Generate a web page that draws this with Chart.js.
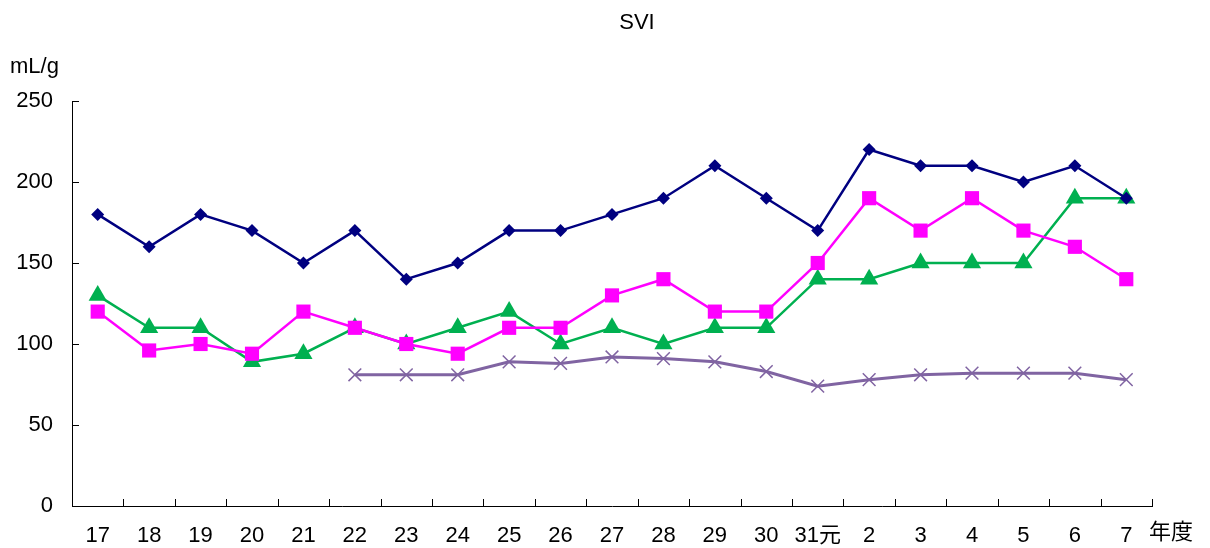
<!DOCTYPE html>
<html>
<head>
<meta charset="utf-8">
<script src="https://cdn.jsdelivr.net/npm/chart.js@4.4.0/dist/chart.umd.min.js"></script>
<style>
  html, body { margin: 0; padding: 0; background: #fff; }
  #wrap { width: 1210px; height: 548px; position: relative; }
</style>
</head>
<body>
<div id="wrap"><canvas id="svi"></canvas></div>
<script>
// ---------- données ----------
const years = ["17", "18", "19", "20", "21", "22", "23", "24", "25", "26", "27", "28", "29", "30", "31元", "2", "3", "4", "5", "6", "7"];
const navySeries = [180, 160, 180, 170, 150, 170, 140, 150, 170, 170, 180, 190, 210, 190, 170, 220, 210, 210, 200, 210, 190];
const pinkSeries = [120, 96, 100, 94, 120, 110, 100, 94, 110, 110, 130, 140, 120, 120, 150, 190, 170, 190, 170, 160, 140];
const greenSeries = [130, 110, 110, 89, 94, 110, 100, 110, 120, 100, 110, 100, 110, 110, 140, 140, 150, 150, 150, 190, 190];
const purpleSeries = [null, null, null, null, null, 81, 81, 81, 89, 88, 92, 91, 89, 83, 74, 78, 81, 82, 82, 82, 78];
const yTicks = [0, 50, 100, 150, 200, 250];

const FONT = "'Liberation Sans', 'Noto Sans CJK JP', sans-serif";

// ticks vers l'intérieur + textes annexes
const decorPlugin = {
  id: "decor",
  afterDraw(chart) {
    const ctx = chart.ctx;
    const x = chart.scales.x;
    const y = chart.scales.y;
    const area = chart.chartArea;
    ctx.save();
    ctx.strokeStyle = "#000";
    ctx.lineWidth = 1;
    ctx.beginPath();
    yTicks.forEach((v) => {
      const py = Math.round(y.getPixelForValue(v)) + 0.5;
      ctx.moveTo(area.left, py);
      ctx.lineTo(area.left + 7, py);
    });
    const step = (area.right - area.left) / years.length;
    for (let i = 1; i <= years.length; i++) {
      const px = Math.round(area.left + i * step) + 0.5;
      ctx.moveTo(px, area.bottom);
      ctx.lineTo(px, area.bottom - 7);
    }
    ctx.stroke();

    ctx.fillStyle = "#000";
    ctx.textBaseline = "middle";
    ctx.font = "22px " + FONT;
    ctx.textAlign = "center";
    ctx.fillText("SVI", 637, 23);
    ctx.textAlign = "left";
    ctx.fillText("mL/g", 10, 67);
    ctx.fillText("年度", 1149, 533);
    ctx.restore();
  }
};

new Chart(document.getElementById("svi"), {
  type: "line",
  data: {
    labels: years,
    datasets: [
      {
        data: navySeries,
        borderColor: "#000080",
        backgroundColor: "#000080",
        borderWidth: 2.5,
        pointStyle: "rectRot",
        pointRadius: 6.5,
        pointBorderWidth: 0
      },
      {
        data: pinkSeries,
        borderColor: "#ff00ff",
        backgroundColor: "#ff00ff",
        borderWidth: 2.5,
        pointStyle: "rect",
        pointRadius: 10,
        pointBorderWidth: 0
      },
      {
        data: greenSeries,
        borderColor: "#00b050",
        backgroundColor: "#00b050",
        borderWidth: 2.5,
        pointStyle: "triangle",
        pointRadius: 10.5,
        pointBorderWidth: 0
      },
      {
        data: purpleSeries,
        borderColor: "#8064a2",
        backgroundColor: "#8064a2",
        borderWidth: 3,
        pointStyle: "crossRot",
        pointRadius: 9,
        pointBorderWidth: 1.5,
        pointBorderColor: "#8064a2"
      }
    ]
  },
  options: {
    responsive: true,
    maintainAspectRatio: false,
    animation: false,
    layout: {
      padding: { top: 101, right: 58, bottom: 0, left: 0 }
    },
    plugins: {
      legend: { display: false },
      tooltip: { enabled: false }
    },
    scales: {
      x: {
        offset: true,
        grid: { display: false, drawTicks: false },
        border: { color: "#000", width: 1 },
        ticks: {
          color: "#000",
          padding: 17,
          maxRotation: 0,
          autoSkip: false,
          font: { size: 22, family: FONT }
        },
        afterFit: (scale) => { scale.height = 42; }
      },
      y: {
        min: 0,
        max: 250,
        afterBuildTicks: (scale) => { scale.ticks = yTicks.map((v) => ({ value: v })); },
        grid: { display: false, drawTicks: false },
        border: { color: "#000", width: 1 },
        ticks: {
          color: "#000",
          padding: 19,
          font: { size: 22, family: FONT }
        },
        afterFit: (scale) => { scale.width = 72; }
      }
    }
  },
  plugins: [decorPlugin]
});
</script>
</body>
</html>
